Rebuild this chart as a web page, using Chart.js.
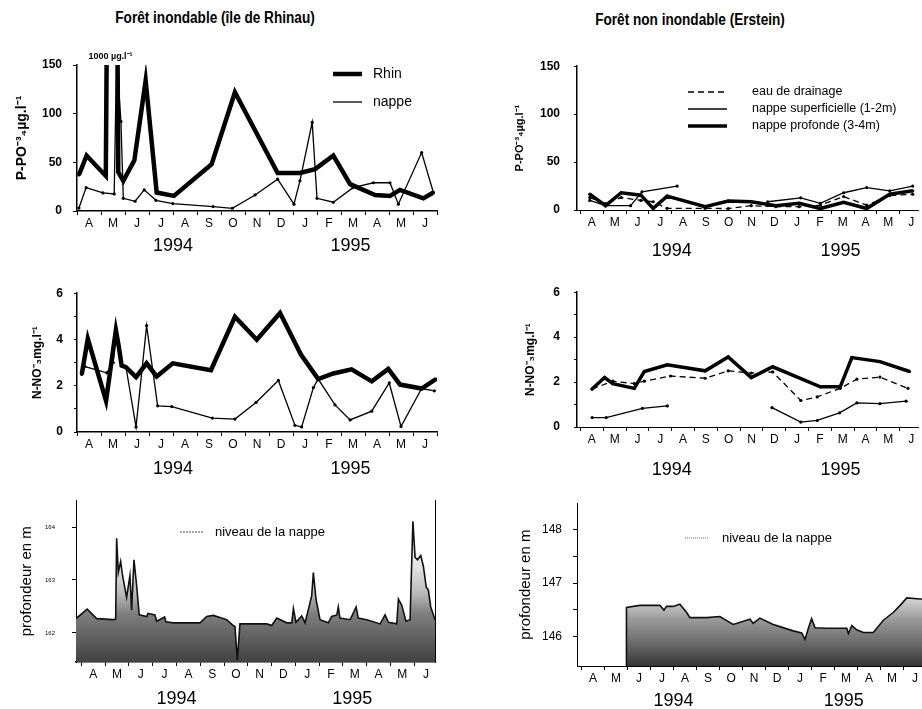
<!DOCTYPE html>
<html lang="fr">
<head>
<meta charset="UTF-8" />
<title>Forêt inondable / non inondable</title>
<script src="https://cdn.jsdelivr.net/npm/chart.js"></script>
<style>
  body {
    margin: 0;
    background: #fff;
    width: 922px;
    height: 709px;
    overflow: hidden;
    position: relative;
    font-family: 'Liberation Sans', Arial, sans-serif;
  }
  .title {
    position: absolute;
    font-weight: bold;
    font-size: 16px;
    color: #000;
    white-space: nowrap;
    transform: translateX(-50%) scaleX(0.85);
  }
  canvas { position: absolute; }
</style>
</head>
<body>
<div class="title" style="left:215px; top:9px">Forêt inondable (île de Rhinau)</div>
<div class="title" style="left:690px; top:11px">Forêt non inondable (Erstein)</div>

<canvas id="p1" width="447" height="224" style="left:0; top:45px"></canvas>
<canvas id="p3" width="447" height="215" style="left:0; top:275px"></canvas>
<canvas id="p5" width="447" height="240" style="left:0; top:480px"></canvas>
<canvas id="p2" width="462" height="223" style="left:460px; top:45px"></canvas>
<canvas id="p4" width="462" height="214" style="left:460px; top:271px"></canvas>
<canvas id="p6" width="462" height="239" style="left:460px; top:485px"></canvas>

<script>
const SANS = "'Liberation Sans', Arial, sans-serif";

// x values are months counted from 1 April 1994
const months = ['A', 'M', 'J', 'J', 'A', 'S', 'O', 'N', 'D', 'J', 'F', 'M', 'A', 'M', 'J'];
const years = ['1994', '1995'];
const yearAt = [4, 11.4];

// P-PO4 (µg/l), forêt inondable
const poRhinX = [0.08, 0.4, 1.2, 1.48, 1.72, 1.93, 2.39, 2.86, 3.32, 4.04, 5.61, 6.58, 8.36, 9.29, 9.92, 10.68, 11.38, 12.42, 13.04, 13.46, 14.43, 14.85];
const poRhin  = [37, 57, 36, 1000, 40, 31, 52, 134, 19, 15.5, 48, 122, 39, 39, 43, 57, 27.6, 16.5, 15.5, 21.7, 13, 19];
const poNapX  = [0.08, 0.38, 1.08, 1.55, 1.65, 1.83, 1.93, 2.42, 2.8, 3.29, 3.99, 5.67, 6.47, 7.42, 8.36, 9.04, 9.29, 9.8, 10.0, 10.68, 11.5, 12.35, 13.04, 13.39, 14.36, 14.85];
const poNap   = [3, 24, 18.6, 17.5, 160, 92, 13, 10, 21.7, 11, 7.6, 4.5, 2.8, 16.5, 32.7, 7, 31, 91, 13, 9, 24, 29, 29, 7, 60, 19];

// P-PO4 (µg/l), Erstein
const poErX   = [0.41, 1.1, 1.79, 2.65, 3.19, 3.8, 5.47, 6.48, 7.49, 8.57, 9.59, 10.52, 11.54, 12.55, 13.56, 14.57];
const poDrain = [13, 6.6, 13, 10, 8.6, 1.7, 1.7, 1.5, 4.5, 3.5, 3.5, 5, 14, 5, 15, 16.5];
const poProf  = [16.5, 4.5, 18, 15.5, 1.7, 14.5, 3.5, 9.3, 8.6, 4.5, 7, 1.5, 8, 1.5, 16.5, 20];
const poSupX  = [0.41, 1.1, 2.2, 2.7, 4.24, 6, 8.21, 9.66, 10.52, 11.54, 12.55, 13.56, 14.57];
const poSup   = [10, 4.5, 4.5, 19, 25, null, 8.6, 12.7, 7, 18, 23.4, 20, 25];

// N-NO3 (mg/l), forêt inondable
const noRhinX = [0.2, 0.45, 1.21, 1.62, 1.74, 1.86, 2.04, 2.46, 2.9, 3.32, 3.99, 5.58, 6.58, 7.49, 8.46, 9.33, 10.05, 10.68, 11.44, 12.28, 12.97, 13.46, 14.36, 14.96];
const noRhin  = [2.5, 4.03, 1.35, 4.4, 3.7, 2.87, 2.8, 2.37, 2.97, 2.4, 2.97, 2.67, 4.98, 3.99, 5.14, 3.35, 2.29, 2.53, 2.71, 2.19, 2.73, 2.05, 1.88, 2.29];
const noNapX  = [0.2, 0.33, 1.24, 1.51, 1.62, 1.76, 1.86, 2.04, 2.46, 2.9, 3.36, 3.95, 5.64, 6.58, 7.46, 8.39, 9.08, 9.36, 9.85, 10.05, 10.75, 11.38, 12.28, 13.01, 13.5, 14.36, 14.89];
const noNap   = [2.5, 2.83, 2.56, 3.0, 4.5, 3.69, 2.87, 2.8, 0.22, 4.6, 1.13, 1.1, 0.6, 0.56, 1.28, 2.23, 0.29, 0.22, 1.92, 2.29, 1.17, 0.52, 0.9, 2.12, 0.24, 1.88, 1.78];

// N-NO3 (mg/l), Erstein
const noProfX  = [0.51, 1.06, 1.42, 2.36, 2.8, 3.81, 5.47, 6.48, 7.49, 8.43, 10.52, 11.39, 11.9, 13.13, 14.43];
const noProf   = [1.69, 2.2, 1.93, 1.72, 2.47, 2.77, 2.5, 3.12, 2.2, 2.68, 1.79, 1.79, 3.09, 2.91, 2.47];
const noDrainX = [0.51, 1.42, 2.36, 2.8, 3.95, 5.47, 6.48, 7.49, 8.43, 9.66, 10.38, 11.39, 12.12, 13.13, 14.36];
const noDrain  = [1.69, 2.04, 1.93, 2.04, 2.27, 2.17, 2.5, 2.4, 2.45, 1.18, 1.34, 1.72, 2.13, 2.22, 1.72];
const noSupX   = [0.51, 1.13, 2.72, 3.81, 6, 8.4, 9.66, 10.38, 11.36, 12.12, 13.13, 14.28];
const noSup    = [0.42, 0.42, 0.83, 0.94, null, 0.86, 0.22, 0.29, 0.63, 1.07, 1.04, 1.15];

// niveau de la nappe (m)
const lvlRhinX = [-0.23, 0.24, 0.64, 1.34, 1.44, 1.48, 1.55, 1.65, 1.73, 1.90, 2.04, 2.11, 2.21, 2.32, 2.43, 2.75, 2.80, 3.09, 3.17, 3.50, 3.55, 3.87, 4.99, 5.27, 5.55, 6.11, 6.39, 6.46, 6.56, 6.67, 7.80, 8.01, 8.22, 8.64, 8.85, 8.92, 9.03, 9.27, 9.41, 9.69, 9.76, 9.87, 10.04, 10.39, 10.53, 10.75, 10.81, 10.88, 11.31, 11.56, 11.65, 12.01, 12.57, 12.78, 12.92, 13.27, 13.34, 13.48, 13.66, 13.83, 13.95, 14.04, 14.14, 14.28, 14.39, 14.51, 14.60, 14.70, 14.79, 14.88];
const lvlRhin  = [162.27, 162.45, 162.27, 162.25, 162.26, 163.79, 163.14, 163.35, 163.08, 162.67, 163.08, 162.43, 163.38, 162.9, 162.34, 162.31, 162.37, 162.34, 162.22, 162.3, 162.21, 162.19, 162.19, 162.31, 162.33, 162.25, 162.14, 162.12, 161.49, 162.17, 162.17, 162.14, 162.28, 162.19, 162.19, 162.46, 162.2, 162.32, 162.19, 162.7, 163.14, 162.64, 162.25, 162.19, 162.31, 162.34, 162.49, 162.28, 162.25, 162.49, 162.28, 162.25, 162.17, 162.34, 162.2, 162.17, 162.64, 162.52, 162.22, 162.25, 164.11, 163.43, 163.38, 163.46, 163.26, 162.87, 162.81, 162.49, 162.37, 162.25];
const lvlErX = [1.94, 1.95, 2.53, 3.40, 3.58, 3.69, 3.98, 4.27, 4.56, 4.71, 5.44, 6.01, 6.59, 7.32, 7.46, 7.75, 8.33, 8.62, 9.20, 9.57, 9.71, 9.86, 10.00, 10.15, 10.66, 11.02, 11.53, 11.60, 11.75, 11.96, 12.25, 12.68, 13.12, 13.56, 13.85, 14.14, 14.72, 14.8];
const lvlEr  = [145.44, 146.54, 146.58, 146.58, 146.49, 146.56, 146.56, 146.60, 146.45, 146.35, 146.35, 146.37, 146.22, 146.32, 146.24, 146.34, 146.22, 146.18, 146.10, 146.06, 145.94, 146.15, 146.33, 146.16, 146.15, 146.15, 146.15, 146.05, 146.20, 146.12, 146.07, 146.07, 146.30, 146.45, 146.58, 146.72, 146.70, 146.70];

const pts = (xs, ys) => xs.map((x, i) => ({ x: x, y: ys[i] }));

function thick(label, xs, ys, w) {
  return { label, data: pts(xs, ys), borderColor: '#000', borderWidth: w, pointRadius: 1.6,
           pointBackgroundColor: '#000', pointBorderWidth: 0, tension: 0 };
}
function thin(label, xs, ys, dash) {
  return { label, data: pts(xs, ys), borderColor: '#000', borderWidth: 1.3, borderDash: dash || [],
           pointRadius: 1.6, pointBackgroundColor: '#000', pointBorderWidth: 0, tension: 0 };
}
function level(label, xs, ys, stops) {
  return {
    label, data: pts(xs, ys), borderColor: '#111', borderWidth: 1.6, pointRadius: 0, tension: 0,
    fill: 'start',
    backgroundColor: c => {
      const { ctx, chartArea } = c.chart;
      if (!chartArea) return '#999';
      const g = ctx.createLinearGradient(0, chartArea.top, 0, chartArea.bottom);
      stops.forEach(s => g.addColorStop(s[0], s[1]));
      return g;
    }
  };
}

// legend drawn at fixed spots inside each panel
const keyBox = {
  id: 'keyBox',
  afterDraw(chart, args, o) {
    if (!o.items) return;
    const c = chart.ctx;
    c.save();
    o.items.forEach(it => {
      const ds = chart.data.datasets[it.ds];
      c.beginPath();
      c.setLineDash(it.dash || ds.borderDash || []);
      c.lineWidth = it.width || ds.borderWidth;
      c.strokeStyle = it.color || ds.borderColor;
      c.moveTo(it.x, it.y);
      c.lineTo(it.x + o.len, it.y);
      c.stroke();
      c.setLineDash([]);
      c.fillStyle = '#000';
      c.font = o.font;
      c.textBaseline = 'middle';
      c.fillText(ds.label, it.x + o.gap, it.y);
    });
    c.restore();
  }
};

// value of the off-scale peak written above it
const peakNote = {
  id: 'peakNote',
  afterDatasetsDraw(chart, args, o) {
    if (!o.unit) return;
    const d = chart.data.datasets[0].data;
    const top = d.reduce((a, p) => (p.y > a.y ? p : a));
    const x = chart.scales.x.getPixelForValue(top.x);
    const c = chart.ctx;
    c.save();
    c.font = 'bold 9px ' + SANS;
    c.fillStyle = '#000';
    c.textAlign = 'center';
    c.fillText(top.y + ' ' + o.unit, x - 2, chart.chartArea.top - 6);
    c.restore();
  }
};

function xScales(o) {
  return {
    x: {
      type: 'linear', min: o.xMin, max: o.xMax,
      afterBuildTicks: s => { s.ticks = months.map((m, i) => ({ value: i + 0.5 })); },
      afterFit: s => { s.height = 22; },
      ticks: { autoSkip: false, maxRotation: 0, padding: 1, color: '#000',
               font: { family: SANS, size: 12 }, callback: (v, i) => months[i] },
      grid: { offset: true, drawOnChartArea: false, color: '#000', tickLength: 4 },
      border: { color: '#000', width: o.xBorder || 1.5, dash: o.xDash || [] }
    },
    yr: {
      type: 'linear', position: 'bottom', min: o.xMin, max: o.xMax,
      afterBuildTicks: s => { s.ticks = yearAt.map(v => ({ value: v })); },
      afterFit: s => { s.height = 36; },
      ticks: { autoSkip: false, maxRotation: 0, padding: o.yearPad, color: '#000',
               font: { family: SANS, size: 18 }, callback: (v, i) => years[i] },
      grid: { display: false, drawTicks: false },
      border: { display: false }
    }
  };
}

function yScale(o) {
  const y = {
    type: 'linear', min: o.yMin, max: o.yMax,
    afterFit: s => { s.width = o.yWidth; },
    ticks: { padding: o.tickPad, color: '#000', autoSkip: false,
             font: { family: SANS, size: o.tickSize, weight: o.tickBold ? 'bold' : 'normal' },
             callback: o.tickLabel || (v => v) },
    grid: { drawOnChartArea: false, color: '#000', tickLength: o.tickLen || 4 },
    border: { color: '#000', width: o.yBorder || 1.5, dash: o.yDash || [] },
    title: { display: true, text: o.title, color: '#000', padding: { top: o.titlePad, bottom: 0 },
             font: { family: SANS, size: o.titleSize, weight: o.titleBold ? 'bold' : 'normal' } }
  };
  if (o.step) y.ticks.stepSize = o.step;
  if (o.tickValues) y.afterBuildTicks = s => { s.ticks = o.tickValues.map(v => ({ value: v })); };
  return y;
}

function panel(id, o) {
  const scales = Object.assign(xScales(o), { y: yScale(o) });
  if (o.rightAxis) {
    scales.y2 = { type: 'linear', position: 'right', min: o.yMin, max: o.yMax,
                  afterFit: s => { s.width = 0; },
                  ticks: { display: false }, grid: { display: false, drawTicks: false },
                  border: { color: '#000', width: 1, dash: [1, 2] } };
  }
  return new Chart(document.getElementById(id), {
    type: 'line',
    data: { datasets: o.datasets },
    options: {
      responsive: false,
      animation: false,
      devicePixelRatio: 1,
      layout: { padding: { top: o.padTop, right: o.padRight, left: 0, bottom: 0 } },
      scales,
      plugins: {
        legend: { display: false },
        tooltip: { enabled: false },
        keyBox: o.key || {},
        peakNote: o.note || {}
      }
    },
    plugins: [keyBox, peakNote]
  });
}

const evenLabel = v => (v % 2 === 0 ? v : '');
const wholeLabel = v => (Number.isInteger(v) ? v : '');

// ---- forêt inondable ----
panel('p1', {
  xMin: 0, xMax: 15, yMin: 0, yMax: 150, step: 50, padTop: 20, padRight: 10, yearPad: 2,
  yWidth: 77, tickPad: 11, tickSize: 12, tickBold: true,
  title: 'P-PO⁻³₄µg.l⁻¹', titleSize: 14, titleBold: true, titlePad: 14,
  datasets: [thick('Rhin', poRhinX, poRhin, 4.5), thin('nappe', poNapX, poNap)],
  key: { len: 29, gap: 40, font: '14px ' + SANS,
         items: [{ ds: 0, x: 333, y: 29 }, { ds: 1, x: 333, y: 57 }] },
  note: { unit: 'µg.l⁻¹' }
});

panel('p3', {
  xMin: 0, xMax: 15, yMin: 0, yMax: 6, step: 1, padTop: 10, padRight: 10, yearPad: 4,
  yWidth: 77, tickPad: 11, tickSize: 12, tickBold: true, tickLabel: evenLabel, tickLen: 3,
  title: 'N-NO⁻₃mg.l⁻¹', titleSize: 12, titleBold: true, titlePad: 30,
  datasets: [thick('Rhin', noRhinX, noRhin, 4.5), thin('nappe', noNapX, noNap)]
});

panel('p5', {
  xMin: -0.23, xMax: 14.88, yMin: 161.45, yMax: 164.5, tickValues: [162, 163, 164],
  padTop: 10, padRight: 12, yearPad: 4,
  yWidth: 76, tickPad: 17, tickSize: 6, tickBold: false, yBorder: 1, yDash: [1, 1],
  title: 'profondeur en m', titleSize: 15, titleBold: false, titlePad: 18,
  rightAxis: true,
  datasets: [level('niveau de la nappe', lvlRhinX, lvlRhin,
    [[0, '#ffffff'], [0.42, '#e2e2e2'], [0.58, '#b8b8b8'], [0.7, '#7e7e7e'], [0.85, '#606060'], [1, '#424242']])],
  key: { len: 23, gap: 35, font: '13px ' + SANS,
         items: [{ ds: 0, x: 180, y: 52, color: '#888', width: 1.5, dash: [2, 1] }] }
});

// ---- forêt non inondable ----
panel('p2', {
  xMin: -0.15, xMax: 14.8, yMin: 0, yMax: 150, step: 50, padTop: 20, padRight: 0, yearPad: 8,
  yWidth: 117, tickPad: 14, tickLen: 3, tickSize: 12, tickBold: true, xBorder: 1, xDash: [1, 2],
  title: 'P-PO⁻³₄µg.l⁻¹', titleSize: 11, titleBold: true, titlePad: 53,
  datasets: [
    thin('eau de drainage', poErX, poDrain, [6, 4]),
    thin('nappe superficielle (1-2m)', poSupX, poSup),
    thick('nappe profonde (3-4m)', poErX, poProf, 3.5)
  ],
  key: { len: 39, gap: 64, font: '12.5px ' + SANS,
         items: [{ ds: 0, x: 228, y: 47 }, { ds: 1, x: 228, y: 64 }, { ds: 2, x: 228, y: 81 }] }
});

panel('p4', {
  xMin: -0.15, xMax: 14.8, yMin: 0, yMax: 6, step: 1, padTop: 10, padRight: 0, yearPad: 10,
  yWidth: 117, tickPad: 14, tickLen: 3, tickSize: 12, tickBold: true, tickLabel: evenLabel,
  xBorder: 1, xDash: [1, 2],
  title: 'N-NO⁻₃mg.l⁻¹', titleSize: 12, titleBold: true, titlePad: 63,
  datasets: [
    thin('eau de drainage', noDrainX, noDrain, [6, 4]),
    thin('nappe superficielle (1-2m)', noSupX, noSup),
    thick('nappe profonde (3-4m)', noProfX, noProf, 3.5)
  ]
});

panel('p6', {
  xMin: -0.2, xMax: 14.8, yMin: 145.44, yMax: 148.5, tickValues: [146, 146.5, 147, 147.5, 148],
  padTop: 10, padRight: 0, yearPad: 2,
  yWidth: 117, tickPad: 11, tickSize: 12, tickBold: false, tickLabel: wholeLabel,
  yBorder: 1, yDash: [1, 1], xBorder: 1, xDash: [1, 2],
  title: 'profondeur en m', titleSize: 15, titleBold: false, titlePad: 57,
  datasets: [level('niveau de la nappe', lvlErX, lvlEr,
    [[0, '#ffffff'], [0.55, '#e4e4e4'], [0.62, '#c4c4c4'], [0.72, '#989898'], [0.86, '#6a6a6a'], [1, '#363636']])],
  key: { len: 23, gap: 37, font: '13px ' + SANS,
         items: [{ ds: 0, x: 225, y: 53, color: '#888', width: 1.2, dash: [1, 1] }] }
});
</script>
</body>
</html>
